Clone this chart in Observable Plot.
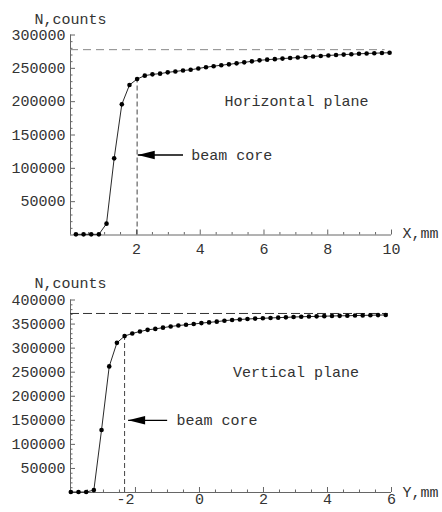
<!DOCTYPE html>
<html><head><meta charset="utf-8">
<script src="https://cdn.jsdelivr.net/npm/d3@7"></script>
<script src="https://cdn.jsdelivr.net/npm/@observablehq/plot@0.6"></script>
<style>
body{margin:0;background:#fff}
#chart svg{display:block;overflow:visible}
#chart svg text{font-family:"Liberation Mono","Courier New","DejaVu Sans Mono","Noto Sans Mono",monospace !important}
</style>
</head><body><div id="chart"></div>
<script>
// ---------- Horizontal plane data ----------
const hX = [0.10,0.34,0.58,0.82,1.06,1.30,1.54,1.78,2.02,2.26,2.50,2.74,2.98,3.22,3.46,3.70,3.94,4.18,4.42,4.66,4.90,5.14,5.38,5.62,5.86,6.10,6.34,6.58,6.82,7.06,7.30,7.54,7.78,8.02,8.26,8.50,8.74,8.98,9.22,9.46,9.70,9.94];
const hN = [1000,1000,1000,1000,17000,115000,196000,225000,234000,239000,241000,242000,244000,245300,246800,247800,249800,251700,253200,254700,256000,257500,259000,260500,262000,263000,263800,264600,265400,266200,267000,267800,268600,269300,270000,270600,271200,271800,272300,272700,273100,273400];
const hXTicks = [2,4,6,8,10];
const hYTicks = [50000,100000,150000,200000,250000,300000];
const hSaturation = 278000;
const hCore = {x: 2.02, n: 234000};
const hArrow = {tip: 2.04, tail: 3.46, n: 120000};
const hCoreLabel = {x: 3.72, n: 120000, text: "beam core"};
const hPlaneLabel = {x: 4.76, n: 200000, text: "Horizontal plane"};

// ---------- Vertical plane data ----------
const vX = [-4.02,-3.78,-3.54,-3.30,-3.06,-2.82,-2.58,-2.34,-2.10,-1.86,-1.62,-1.38,-1.14,-0.90,-0.66,-0.42,-0.18,0.06,0.30,0.54,0.78,1.02,1.26,1.50,1.74,1.98,2.22,2.46,2.70,2.94,3.18,3.42,3.66,3.90,4.14,4.38,4.62,4.86,5.10,5.34,5.58,5.82];
const vN = [1000,1000,1000,5000,130000,262000,311000,325000,330500,334500,338000,340000,342500,345000,347000,348500,350000,352000,353500,355000,357000,358500,359500,360500,361300,362000,362700,363300,364000,364600,365200,365600,366000,366400,366800,367100,367400,367700,368000,368300,368600,368900];
const vXTicks = [-2,0,2,4,6];
const vYTicks = [50000,100000,150000,200000,250000,300000,350000,400000];
const vSaturation = 372000;
const vCore = {x: -2.34, n: 325000};
const vArrow = {tip: -2.23, tail: -1.01, n: 150000};
const vCoreLabel = {x: -0.72, n: 150000, text: "beam core"};
const vPlaneLabel = {x: 1.05, n: 250000, text: "Vertical plane"};

const FONT = "Liberation Mono, Courier New, DejaVu Sans Mono, monospace";
const AXIS = "#666";
const TXT = "#333";

// elongated filled arrowhead, tip at the anchor point, pointing left
const arrowHead = {draw(ctx) { ctx.moveTo(0, 0); ctx.lineTo(17, -4.2); ctx.lineTo(17, 4.2); ctx.closePath(); }};

function panel(cfg) {
  const rows = cfg.xs.map((x, i) => ({x, n: cfg.ns[i]}));
  const [x0, x1] = cfg.xDomain;
  const [y0, y1] = cfg.yDomain;
  const xMinor = d3.range(Math.ceil(x0 * 2) / 2, x1 + 1e-9, 0.5).filter(v => Math.abs(v / 2 - Math.round(v / 2)) > 1e-6);
  const yMinor = d3.range(10000, y1, 10000).filter(v => v % 50000 !== 0);
  const fmt = d => d < 0 ? "-" + (-d) : String(d);
  const posTicks = cfg.xTicks.filter(d => d >= 0);
  const negTicks = cfg.xTicks.filter(d => d < 0);
  return Plot.plot({
    width: 442,
    height: cfg.height,
    marginLeft: 70,
    marginRight: 51,
    marginTop: cfg.mt,
    marginBottom: cfg.mb,
    style: {fontFamily: FONT, fontSize: "15px", background: "#fff", overflow: "visible"},
    x: {domain: cfg.xDomain, axis: null},
    y: {domain: cfg.yDomain, axis: null},
    marks: [
      Plot.ruleY([y0], {stroke: AXIS, strokeWidth: 1}),
      Plot.ruleX([x0], {stroke: AXIS, strokeWidth: 1}),
      Plot.axisY({ticks: cfg.yTicks, tickSize: -5, fill: "none", stroke: AXIS, label: null}),
      Plot.axisY({ticks: yMinor, tickSize: -2.5, fill: "none", stroke: AXIS, label: null}),
      Plot.axisY({ticks: cfg.yTicks, tickSize: 0, tickPadding: 5, tickFormat: d3.format("d"), fill: TXT, fontFamily: FONT, label: null}),
      Plot.axisX({ticks: cfg.xTicks, tickSize: -5, fill: "none", stroke: AXIS, label: null}),
      Plot.axisX({ticks: xMinor, tickSize: -2.5, fill: "none", stroke: AXIS, label: null}),
      Plot.axisX({ticks: posTicks, tickSize: 0, tickPadding: cfg.xPad, tickFormat: fmt, fill: TXT, fontFamily: FONT, label: null}),
      negTicks.length ? Plot.axisX({ticks: negTicks, tickSize: 0, tickPadding: cfg.xPad, tickFormat: fmt, fill: TXT, fontFamily: FONT, label: null, dx: -10}) : null,
      Plot.ruleY([cfg.sat], {x1: x0, x2: cfg.satEnd, stroke: cfg.satStroke, strokeWidth: 1, strokeDasharray: cfg.satDash}),
      Plot.ruleX([cfg.core], {x: "x", y1: y0, y2: "n", stroke: "#444", strokeWidth: 1, strokeDasharray: "5,3"}),
      Plot.line(rows, {x: "x", y: "n", stroke: "#111", strokeWidth: 0.9}),
      Plot.dot(rows, {x: "x", y: "n", r: 2.3, fill: "#000", stroke: "none"}),
      Plot.link([cfg.arrow], {x1: "tip", x2: "tail", y1: "n", y2: "n", stroke: "#000", strokeWidth: 1.3}),
      Plot.dot([cfg.arrow], {x: "tip", y: "n", symbol: arrowHead, fill: "#000", stroke: "none"}),
      Plot.text([cfg.coreLabel], {x: "x", y: "n", text: "text", textAnchor: "start", fill: TXT, fontFamily: FONT}),
      Plot.text([cfg.planeLabel], {x: "x", y: "n", text: "text", textAnchor: "start", fill: TXT, fontFamily: FONT}),
      Plot.text(["N,counts"], {x: x0, y: y1, text: d => d, dy: cfg.titleDy, fill: TXT, fontFamily: FONT}),
      Plot.text([cfg.xLabel], {x: x1, y: y0, text: d => d, textAnchor: "start", dx: 11, dy: cfg.xLabelDy, fill: TXT, fontFamily: FONT})
    ]
  });
}

const topPanel = panel({
  xs: hX, ns: hN, xDomain: [-0.07, 10], yDomain: [0, 300000],
  xTicks: hXTicks, yTicks: hYTicks, height: 262, mt: 34.5, mb: 27.5, xPad: 8,
  sat: hSaturation, satEnd: 9.8, satStroke: "#888", satDash: "8,5",
  core: hCore, arrow: hArrow, coreLabel: hCoreLabel, planeLabel: hPlaneLabel,
  titleDy: -15.5, xLabel: "X,mm", xLabelDy: -1.5
});
const bottomPanel = panel({
  xs: vX, ns: vN, xDomain: [-4.03, 6], yDomain: [0, 400000],
  xTicks: vXTicks, yTicks: vYTicks, height: 250, mt: 37.5, mb: 20, xPad: 1,
  sat: vSaturation, satEnd: 5.9, satStroke: "#333", satDash: "9,4",
  core: vCore, arrow: vArrow, coreLabel: vCoreLabel, planeLabel: vPlaneLabel,
  titleDy: -17, xLabel: "Y,mm", xLabelDy: 0
});
document.getElementById("chart").append(topPanel, bottomPanel);
</script>
</body></html>
